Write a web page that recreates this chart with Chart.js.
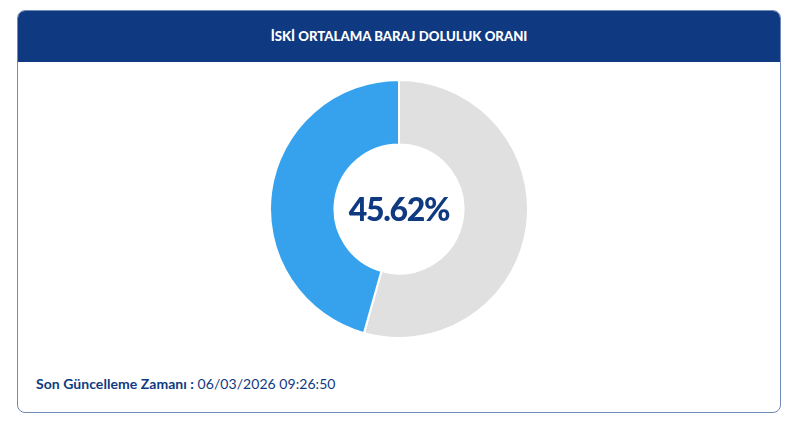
<!DOCTYPE html>
<html lang="tr">
<head>
<meta charset="utf-8">
<title>İSKİ Ortalama Baraj Doluluk Oranı</title>
<script src="https://cdn.jsdelivr.net/npm/chart.js@4/dist/chart.umd.min.js"></script>
<style>
html,body{margin:0;padding:0;background:#fff;width:800px;height:428px;overflow:hidden}
body{font-family:Lato,"Open Sans",sans-serif}
#card{position:absolute;left:17px;top:10px;width:762px;height:401px;border:1px solid #6f8bb8;border-radius:8px;background:#fff;overflow:hidden}
#head{position:absolute;left:-1px;top:-1px;width:764px;height:52px;background:#0f3a82;color:#fff;font-weight:900;font-size:13.2px;line-height:52px;text-align:center}
#wrap{position:absolute;left:251px;top:68px;width:260px;height:260px}
#foot{position:absolute;left:18px;top:363px;font-size:14px;line-height:20px;color:#0f3a82;letter-spacing:.05px}
#foot b{font-weight:700}
canvas{display:block}
</style>
</head>
<body>
<div id="card">
  <div id="head">İSKİ ORTALAMA BARAJ DOLULUK ORANI</div>
  <div id="wrap"><canvas id="c" width="260" height="260"></canvas></div>
  <div id="foot"><b>Son Güncelleme Zamanı :</b> 06/03/2026 09:26:50</div>
</div>
<script>
const categories = ["Boş", "Dolu"];
const values = [54.38, 45.62];
const colors = ["#e0e0e0", "#36a2ee"];
const centerLabel = "45.62%";

const centerText = {
  id: "centerText",
  afterDraw(chart) {
    const arc = chart.getDatasetMeta(0).data[0];
    const ctx = chart.ctx;
    ctx.save();
    ctx.font = "900 32px Lato, sans-serif";
    ctx.letterSpacing = "-1.3px";
    ctx.fillStyle = "#0f3a82";
    ctx.textAlign = "center";
    ctx.textBaseline = "middle";
    ctx.fillText(centerLabel, arc.x, arc.y + 2);
    ctx.restore();
  }
};

new Chart(document.getElementById("c"), {
  type: "doughnut",
  data: {
    labels: categories,
    datasets: [{ data: values, backgroundColor: colors, borderColor: "#ffffff", borderWidth: 2 }]
  },
  options: {
    responsive: false,
    animation: false,
    cutout: "50%",
    layout: { padding: 0 },
    plugins: { legend: { display: false }, tooltip: { enabled: false }, title: { display: false } }
  },
  plugins: [centerText]
});
</script>
</body>
</html>
